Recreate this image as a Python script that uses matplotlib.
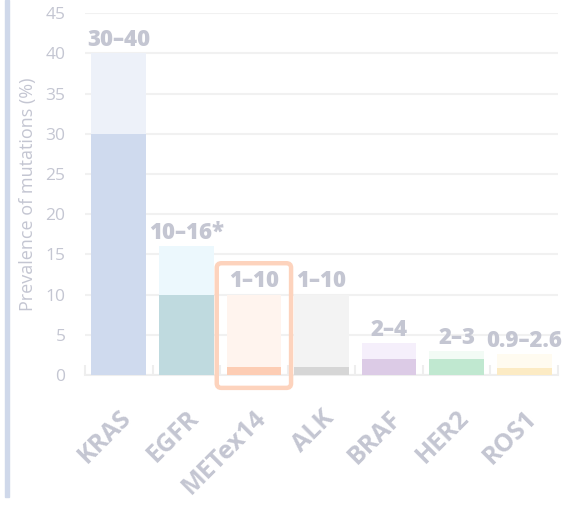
import matplotlib.pyplot as plt
from matplotlib.patches import FancyBboxPatch, Rectangle

# data
genes = ['KRAS', 'EGFR', 'METex14', 'ALK', 'BRAF', 'HER2', 'ROS1']
low = [30, 10, 1, 1, 2, 2, 0.9]
high = [40, 16, 10, 10, 4, 3, 2.6]
labels = ['30\u201340', '10\u201316*', '1\u201310', '1\u201310', '2\u20134', '2\u20133', '0.9\u20132.6']
low_colors = ['#cfdaee', '#bfdadf', '#fdcdb4', '#d6d6d6', '#dccbe6', '#c0e8d0', '#fcebc4']
high_colors = ['#edf1f9', '#ecf8fd', '#fff4ee', '#f3f3f3', '#f5effb', '#f2fbf5', '#fffbf0']

txt = '#c4c6d2'
plt.rcParams['font.family'] = ['Open Sans', 'DejaVu Sans']

fig = plt.figure(figsize=(5.63, 5.05), dpi=100)
ax = fig.add_axes([0.151, 0.2574, 0.840, 0.7166])

x = range(len(genes))
ax.bar(x, high, width=0.81, color=high_colors, zorder=2)
ax.bar(x, low, width=0.81, color=low_colors, zorder=3)

for i, (h, lab) in enumerate(zip(high, labels)):
    ax.text(i, h + 0.15, lab, ha='center', va='bottom', fontsize=16,
            fontweight='heavy', color=txt, zorder=4, clip_on=False)

ax.set_xlim(-0.5, 6.5)
ax.set_ylim(0, 45)
ax.set_yticks(range(0, 50, 5))
ax.yaxis.grid(True, color='#f1f1f1', linewidth=1.5, zorder=0)
ax.set_axisbelow(True)
ax.tick_params(axis='y', length=0, pad=14, labelsize=12.5, labelcolor=txt)

ax.set_xticks(list(x))
ax.set_xticklabels(genes, rotation=45, ha='right', rotation_mode='anchor',
                   fontsize=18, fontweight='bold', color=txt)
ax.tick_params(axis='x', length=0, pad=22)
ax.set_xticks([i + 0.5 for i in range(-1, len(genes))], minor=True)
ax.tick_params(axis='x', which='minor', length=7, direction='in', color='#eeeeee', width=1.5)

for s in ['top', 'right', 'left']:
    ax.spines[s].set_visible(False)
ax.spines['bottom'].set_color('#eeeeee')
ax.spines['bottom'].set_linewidth(1.5)

ax.set_ylabel('Prevalence of mutations (%)', fontsize=13, color=txt, labelpad=6)

# highlight box around METex14
idx = genes.index('METex14')
box = FancyBboxPatch((idx - 0.55, -1.6), 1.1, 15.5, boxstyle='round,pad=0,rounding_size=0.07',
                     fill=False, edgecolor='#fdd3bd', linewidth=3.2, zorder=5, clip_on=False,
                     mutation_aspect=8)
ax.add_patch(box)

# left side bar
fig.patches.append(Rectangle((0.009, 0.015), 0.007, 0.985, transform=fig.transFigure,
                             color='#cfd8ea', zorder=0))

fig.savefig('out.png', dpi=100)
